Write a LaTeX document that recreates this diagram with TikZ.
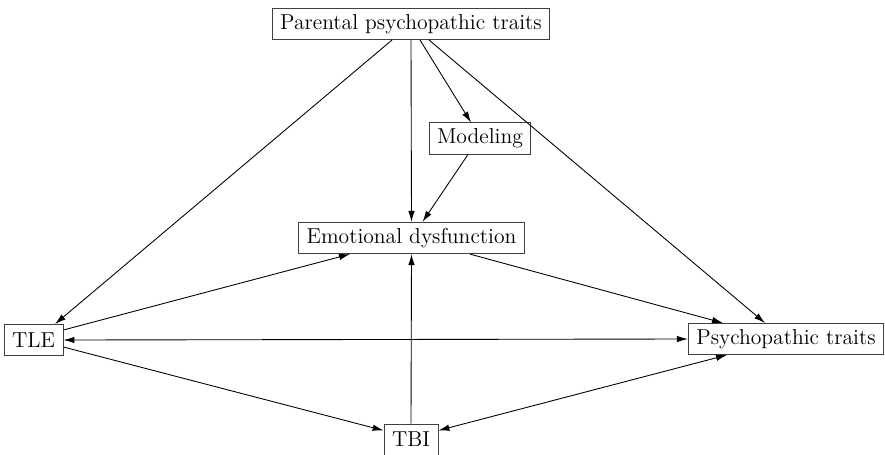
\documentclass[tikz,border=0pt]{standalone}
\usetikzlibrary{arrows.meta}
\begin{document}
\begin{tikzpicture}[>={Latex[length=2.2mm,width=1.3mm]}, line width=0.5pt, box/.style={draw=black!75, fill=white, inner xsep=0.16cm, minimum height=0.62cm, font=\fontsize{12.3}{14}\selectfont}]
   \useasboundingbox (0,0) rectangle (17.7,9.08);
   \node (par) at (8.22,8.6) [box] {Parental psychopathic traits};
   \node (mod) at (9.6,6.31) [box] {Modeling};
   \node (emo) at (8.23,4.32) [box] {Emotional dysfunction};
   \node (tle) at (0.67,2.28) [box] {TLE};
   \node (psy) at (15.72,2.3) [box] {Psychopathic traits};
   \node (tbi) at (8.22,0.29) [box] {TBI};
   \draw [->] ([xshift=-0.38cm]par.south)--([xshift=0.43cm]tle.north);
   \draw [->] (par.south)--(emo.north);
   \draw [->] ([xshift=0.18cm]par.south)--([xshift=-0.18cm]mod.north);
   \draw [->] ([xshift=0.36cm]par.south)--([xshift=-0.42cm]psy.north);
   \draw [->] ([xshift=-0.24cm]mod.south)--([xshift=0.22cm]emo.north);
   \draw [->] ([yshift=0.2cm]tle.east)--([xshift=-1.23cm]emo.south);
   \draw [->] ([xshift=1.17cm]emo.south)--([xshift=-1.26cm]psy.north);
   \draw [<->] (tle.east)--(psy.west);
   \draw [->] ([yshift=-0.14cm]tle.east)--([yshift=0.18cm]tbi.west);
   \draw [->] (tbi.north)--(emo.south);
   \draw [<->] ([xshift=-1.18cm]psy.south)--([yshift=0.18cm]tbi.east);
\end{tikzpicture}
\end{document}
